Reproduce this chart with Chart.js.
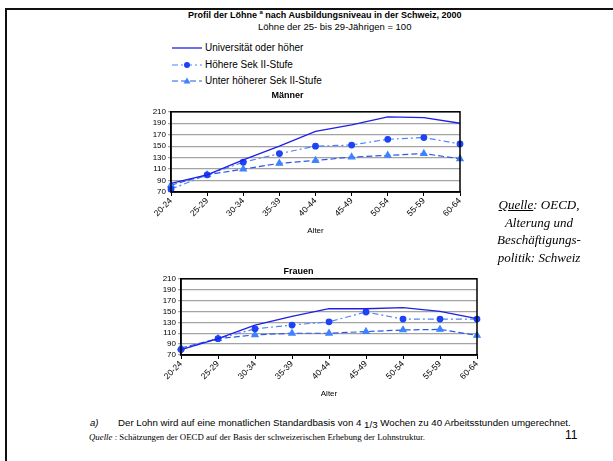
<!DOCTYPE html>
<html>
<head>
<meta charset="utf-8">
<script src="https://cdn.jsdelivr.net/npm/chart.js@4"></script>
<style>
  body { margin: 0; width: 613px; height: 461px; background: #fff; position: relative; overflow: hidden;
         font-family: "Liberation Sans", Arial, sans-serif; color: #000; }
  .abs { position: absolute; white-space: nowrap; }
  #frameTop { left: 5px; top: 8px; width: 608px; height: 2px; background: #111; }
  #frameLeft { left: 5px; top: 8px; width: 2px; height: 453px; background: #111; }
  #legend div { height: 16.5px; line-height: 16.5px; font-size: 10px; display: flex; align-items: center; }
  #legend svg { margin-right: 3px; }
  .serif { font-family: "Liberation Serif", "Times New Roman", serif; }
</style>
</head>
<body>
<div id="frameTop" class="abs"></div>
<div id="frameLeft" class="abs"></div>

<div class="abs" style="left:188px; top:9px; font-size:9px; font-weight:bold;">Profil der Löhne <sup style="font-size:6px">a</sup> nach Ausbildungsniveau in der Schweiz, 2000</div>
<div class="abs" style="left:258px; top:21px; font-size:9.5px;">Löhne der 25- bis 29-Jährigen = 100</div>

<div id="legend" class="abs" style="left:172px; top:40px;"></div>

<canvas id="maenner" class="abs" style="left:115px; top:86px;"></canvas>
<canvas id="frauen" class="abs" style="left:120px; top:261px;"></canvas>

<div class="abs serif" style="left:479px; top:196px; width:120px; text-align:center; font-size:13px; font-style:italic; line-height:17.5px; white-space:normal;">
  <u>Quelle</u>: OECD, Alterung und Beschäftigungs-politik: Schweiz
</div>

<div class="abs" style="left:90px; top:417px; font-size:9.5px; font-style:italic;">a)</div>
<div class="abs" style="left:118px; top:417px; font-size:9.7px;">Der Lohn wird auf eine monatlichen Standardbasis von 4 <span style="position:relative; top:2px;">1/3</span> Wochen zu 40 Arbeitsstunden umgerechnet.</div>
<div class="abs serif" style="left:89px; top:432px; font-size:8.8px;"><i>Quelle</i> : Schätzungen der OECD auf der Basis der schweizerischen Erhebung der Lohnstruktur.</div>
<div class="abs" style="left:565px; top:428px; font-size:12px;">11</div>

<script>
// Daten
const altersgruppen = ['20-24', '25-29', '30-34', '35-39', '40-44', '45-49', '50-54', '55-59', '60-64'];
const reihenNamen = ['Universität oder höher', 'Höhere Sek II-Stufe', 'Unter höherer Sek II-Stufe'];

const maennerUni = [85, 100, 126, 150, 176, 187, 201, 200, 190];
const maennerHoehere = [75, 100, 122, 137, 150, 152, 162, 165, 154];
const maennerUnter = [82, 100, 110, 120, 125, 131, 134, 137, 128];

const frauenUni = [80, 100, 125, 141, 155, 155, 157, 150, 137];
const frauenHoehere = [80, 100, 118, 125, 131, 149, 136, 136, 136];
const frauenUnter = [83, 100, 107, 110, 110, 113, 116, 117, 106];

const yTicks = [70, 90, 110, 130, 150, 170, 190, 210];

// Stile
const stile = [
  { line: '#1f1fe8', point: '#1f1fe8', dash: [], pointStyle: 'circle', radius: 0, width: 1.3 },
  { line: '#4f82ff', point: '#1c44f5', dash: [6, 3, 2, 3], pointStyle: 'circle', radius: 2.8, width: 1.2 },
  { line: '#2858ee', point: '#3e82ff', dash: [6, 3], pointStyle: 'triangle', radius: 3.6, width: 1.2 }
];

// Legende
const legend = document.getElementById('legend');
reihenNamen.forEach((name, i) => {
  const s = stile[i];
  let marker = '';
  if (s.radius > 0 && s.pointStyle === 'circle') marker = '<circle cx="15" cy="5" r="3" fill="' + s.point + '"/>';
  if (s.radius > 0 && s.pointStyle === 'triangle') marker = '<polygon points="15,1.5 18.5,7.5 11.5,7.5" fill="' + s.point + '"/>';
  const row = document.createElement('div');
  row.innerHTML = '<svg width="30" height="10"><line x1="0" y1="5" x2="30" y2="5" stroke="' + s.line +
    '" stroke-width="' + s.width + '" stroke-dasharray="' + (s.dash.join(' ') || 'none') + '"/>' + marker + '</svg>' + name;
  legend.appendChild(row);
});

function datasets(werte) {
  return werte.map((w, i) => ({
    label: reihenNamen[i],
    data: w,
    borderColor: stile[i].line,
    borderWidth: stile[i].width,
    borderDash: stile[i].dash,
    backgroundColor: stile[i].point,
    pointBackgroundColor: stile[i].point,
    pointBorderColor: stile[i].point,
    pointStyle: stile[i].pointStyle,
    pointRadius: stile[i].radius,
    tension: 0,
    fill: false
  }));
}

const rahmen = {
  id: 'rahmen',
  afterDatasetsDraw(chart) {
    const a = chart.chartArea, c = chart.ctx;
    c.save();
    c.strokeStyle = '#000';
    c.lineWidth = 1.5;
    c.strokeRect(a.left, a.top, a.right - a.left, a.bottom - a.top);
    c.restore();
  }
};

function optionen(titel, yBreite, xHoehe, padRechts, titelPad) {
  return {
    responsive: false,
    animation: false,
    layout: { padding: { left: 0, right: padRechts, top: 0, bottom: 0 } },
    plugins: {
      legend: { display: false },
      tooltip: { enabled: false },
      title: { display: true, text: titel, color: '#000', font: { family: 'Liberation Sans', size: 9, weight: 'bold' }, padding: titelPad }
    },
    scales: {
      x: {
        type: 'category',
        offset: false,
        grid: { display: true, drawOnChartArea: false, drawTicks: true, tickLength: 4, color: '#000' },
        border: { color: '#000', width: 1.5 },
        ticks: { color: '#000', font: { family: 'Liberation Sans', size: 8.5 }, minRotation: 45, maxRotation: 45, padding: 0, autoSkip: false },
        title: { display: true, text: 'Alter', color: '#000', font: { family: 'Liberation Sans', size: 8 }, padding: { top: 2, bottom: 3 } },
        afterFit(s) { s.height = xHoehe; }
      },
      y: {
        min: 70, max: 210,
        afterBuildTicks(s) { s.ticks = yTicks.map(v => ({ value: v })); },
        grid: { color: '#a3a3a3', lineWidth: 1.3, drawTicks: true, tickLength: 3 },
        border: { color: '#000', width: 1.5 },
        ticks: { color: '#000', font: { family: 'Liberation Sans', size: 8 }, padding: 2, autoSkip: false },
        afterFit(s) { s.width = yBreite; }
      }
    }
  };
}

const cm = document.getElementById('maenner');
cm.width = 360; cm.height = 153;
new Chart(cm, {
  type: 'line',
  data: { labels: altersgruppen, datasets: datasets([maennerUni, maennerHoehere, maennerUnter]) },
  options: optionen('Männer', 56, 47, 15, { top: 4, bottom: 11 }),
  plugins: [rahmen]
});

const cf = document.getElementById('frauen');
cf.width = 370; cf.height = 141;
new Chart(cf, {
  type: 'line',
  data: { labels: altersgruppen, datasets: datasets([frauenUni, frauenHoehere, frauenUnter]) },
  options: optionen('Frauen', 61, 47, 13, { top: 5, bottom: 2 }),
  plugins: [rahmen]
});
</script>
</body>
</html>
